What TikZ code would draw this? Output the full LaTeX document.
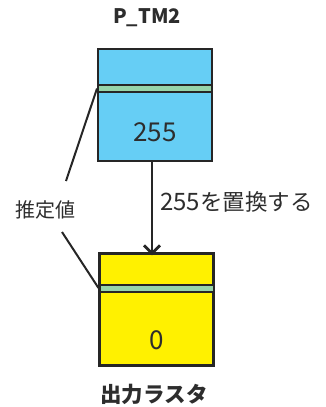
\documentclass[tikz,border=0pt]{standalone}
\usepackage{fontspec}
\setmainfont{Noto Sans CJK JP}
\usetikzlibrary{arrows.meta}
\definecolor{boxblue}{RGB}{102,206,245}
\definecolor{boxyellow}{RGB}{255,241,0}
\definecolor{bandgreen}{RGB}{150,212,170}
\definecolor{txt}{RGB}{45,45,45}
\begin{document}
\begin{tikzpicture}[x=1pt,y=-1pt,
  box/.style={draw=black!85,line width=2.2pt,minimum width=114pt,minimum height=112pt,inner sep=0pt},
  band/.style={draw=black!85,line width=2pt,fill=bandgreen,minimum width=114pt,minimum height=7pt,inner sep=0pt},
  num/.style={text=txt,font=\fontsize{26}{26}\selectfont,inner sep=0pt},
  lbl/.style={text=txt,font=\fontsize{20}{20}\selectfont,inner sep=0pt},
  ttl/.style={text=txt,font=\bfseries\fontsize{20}{20}\selectfont,inner sep=0pt},
  lead/.style={draw=black!85,line width=2pt},
  arr/.style={draw=black!85,line width=2.5pt,-{Straight Barb[length=8pt,width=16pt,line width=2.8pt]}}]
\useasboundingbox (0,0) rectangle (325,407);
\node[ttl] (t1) at (147,18) {P\_TM2};
\node[box,fill=boxblue] (top) at (155,105) {};
\node[band] (topband) at (155,88.5) {};
\node[num] (v1) at (155,132) {255};
\node[box,fill=boxyellow] (bot) at (156.5,309.5) {};
\node[band] (botband) at (156.5,288) {};
\node[num] (v2) at (157,340) {0};
\node[ttl,font=\bfseries\fontsize{21.5}{21.5}\selectfont] (t2) at (154,394) {出力ラスタ};
\node[lbl,anchor=west] (rep) at (160,202) {\fontsize{24}{24}\selectfont 255\fontsize{22.5}{22.5}\selectfont を置換する};
\node[lbl] (est) at (45,210) {推定値};
\coordinate (e1) at (66,181);
\coordinate (e2) at (62,232);
\draw[lead] (topband.west) -- (e1);
\draw[lead] (e2) -- (botband.west);
\draw[arr] ([xshift=-3pt]top.south) -- ([xshift=-4.5pt,yshift=-3pt]bot.north);
\end{tikzpicture}
\end{document}
